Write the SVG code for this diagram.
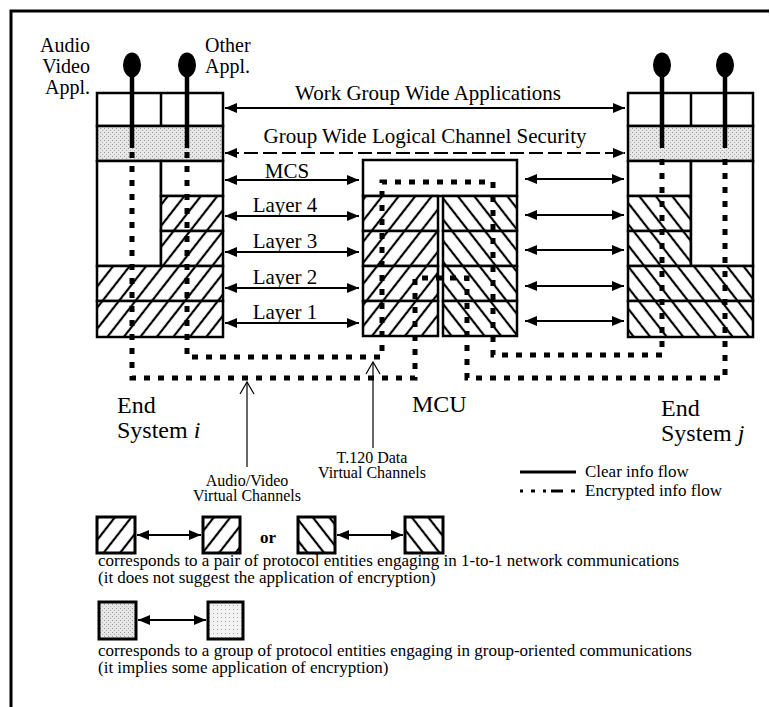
<svg xmlns="http://www.w3.org/2000/svg" width="770" height="707" viewBox="0 0 770 707">
<style>
  .t { font-family: "Liberation Serif", "Times New Roman", serif; fill: #000; }
  .lg { font-size: 21px; }
  .ap { font-size: 20px; }
  .big { font-size: 24px; }
  .sm { font-size: 17px; }
  .vc { font-size: 16px; }
  .box { stroke: #000; stroke-width: 2.5; }
  .wh { fill: #fff; }
  .hf { fill: url(#hatchF); }
  .hb { fill: url(#hatchB); }
  .gr { fill: url(#stip); }
  .arr { stroke: #000; stroke-width: 2; fill: none; marker-start: url(#ah); marker-end: url(#ah); }
  .enc { stroke: #000; stroke-width: 5; fill: none; stroke-dasharray: 6 8; }
  .stick { stroke: #000; stroke-width: 4.5; fill: none; }
  .thin { stroke: #000; stroke-width: 1.2; fill: none; }
  .lbox { stroke: #000; stroke-width: 3; }
</style>
<defs>
  <pattern id="hatchF" patternUnits="userSpaceOnUse" width="13" height="13" patternTransform="rotate(38)">
    <rect width="13" height="13" fill="#fff"/>
    <line x1="6" y1="-1" x2="6" y2="14" stroke="#000" stroke-width="2.2"/>
  </pattern>
  <pattern id="hatchB" patternUnits="userSpaceOnUse" width="13" height="13" patternTransform="rotate(-38)">
    <rect width="13" height="13" fill="#fff"/>
    <line x1="6" y1="-1" x2="6" y2="14" stroke="#000" stroke-width="2.2"/>
  </pattern>
  <pattern id="stip" patternUnits="userSpaceOnUse" width="4" height="4">
    <rect width="4" height="4" fill="#e6e6e6"/>
    <rect x="0" y="0" width="1" height="1" fill="#999"/>
    <rect x="2" y="2" width="1" height="1" fill="#b0b0b0"/>
  </pattern>
  <pattern id="stip2" patternUnits="userSpaceOnUse" width="4" height="4">
    <rect width="4" height="4" fill="#f2f2f2"/>
    <rect x="1" y="1" width="1" height="1" fill="#a5a5a5"/>
  </pattern>
  <marker id="ah" viewBox="0 0 12 10" refX="12" refY="5" markerWidth="12" markerHeight="10" markerUnits="userSpaceOnUse" orient="auto-start-reverse">
    <path d="M0,0 L12,5 L0,10 z" fill="#000"/>
  </marker>
</defs>

<g id="frame">
  <path d="M11,707 V11 H769" stroke="#000" stroke-width="3" fill="none"/>
</g>

<g id="end-system-i">
  <rect class="box wh" x="97" y="93" width="126" height="33"/>
  <line class="box" x1="161" y1="93" x2="161" y2="126"/>
  <rect class="box gr" x="97" y="126" width="126" height="35"/>
  <rect class="box wh" x="97" y="161" width="64" height="105"/>
  <rect class="box wh" x="161" y="161" width="62" height="35"/>
  <rect class="box hf" x="161" y="196" width="62" height="35"/>
  <rect class="box hf" x="161" y="231" width="62" height="35"/>
  <rect class="box hf" x="97" y="266" width="126" height="35"/>
  <rect class="box hf" x="97" y="301" width="126" height="36"/>
  <ellipse cx="132" cy="65" rx="9" ry="12.5"/>
  <ellipse cx="187" cy="65" rx="9" ry="12.5"/>
  <line class="stick" x1="132" y1="70" x2="132" y2="148"/>
  <line class="stick" x1="187" y1="70" x2="187" y2="148"/>
  <text class="t ap" x="90" y="52" text-anchor="end">Audio</text>
  <text class="t ap" x="90" y="73" text-anchor="end">Video</text>
  <text class="t ap" x="90" y="94" text-anchor="end">Appl.</text>
  <text class="t ap" x="205" y="52">Other</text>
  <text class="t ap" x="205" y="73">Appl.</text>
  <text class="t big" x="117" y="413">End</text>
  <text class="t big" x="117" y="438">System <tspan font-style="italic">i</tspan></text>
</g>

<g id="mcu">
  <rect class="box wh" x="363" y="160" width="154" height="36"/>
  <rect class="box hf" x="363" y="196" width="75" height="35"/>
  <rect class="box hf" x="363" y="231" width="75" height="35"/>
  <rect class="box hf" x="363" y="266" width="75" height="35"/>
  <rect class="box hf" x="363" y="301" width="75" height="35"/>
  <rect class="box hb" x="443" y="196" width="74" height="35"/>
  <rect class="box hb" x="443" y="231" width="74" height="35"/>
  <rect class="box hb" x="443" y="266" width="74" height="35"/>
  <rect class="box hb" x="443" y="301" width="74" height="35"/>
  <text class="t big" x="412" y="412">MCU</text>
</g>

<g id="end-system-j">
  <rect class="box wh" x="628" y="93" width="125" height="33"/>
  <line class="box" x1="691" y1="93" x2="691" y2="126"/>
  <rect class="box gr" x="628" y="126" width="125" height="35"/>
  <rect class="box wh" x="628" y="161" width="63" height="35"/>
  <rect class="box hb" x="628" y="196" width="63" height="35"/>
  <rect class="box hb" x="628" y="231" width="63" height="35"/>
  <rect class="box wh" x="691" y="161" width="62" height="105"/>
  <rect class="box hb" x="628" y="266" width="125" height="35"/>
  <rect class="box hb" x="628" y="301" width="125" height="36"/>
  <ellipse cx="662" cy="65" rx="9" ry="12.5"/>
  <ellipse cx="725" cy="65" rx="9" ry="12.5"/>
  <line class="stick" x1="662" y1="70" x2="662" y2="148"/>
  <line class="stick" x1="725" y1="70" x2="725" y2="148"/>
  <text class="t big" x="661" y="416">End</text>
  <text class="t big" x="661" y="441">System <tspan font-style="italic">j</tspan></text>
</g>

<g id="connectors">
  <line class="arr" x1="225" y1="108" x2="625" y2="108"/>
  <line class="arr" x1="225" y1="153" x2="625" y2="153" stroke-dasharray="14 5"/>
  <line class="arr" x1="225" y1="180" x2="359" y2="180"/>
  <line class="arr" x1="225" y1="216" x2="359" y2="216"/>
  <line class="arr" x1="225" y1="252" x2="359" y2="252"/>
  <line class="arr" x1="225" y1="288" x2="359" y2="288"/>
  <line class="arr" x1="225" y1="323" x2="359" y2="323"/>
  <line class="arr" x1="525" y1="179" x2="624" y2="179"/>
  <line class="arr" x1="525" y1="215" x2="624" y2="215"/>
  <line class="arr" x1="525" y1="250" x2="624" y2="250"/>
  <line class="arr" x1="525" y1="286" x2="624" y2="286"/>
  <line class="arr" x1="525" y1="321" x2="624" y2="321"/>
  <path class="enc" d="M187,152 V357 H382 V182 H493 V355 H662 V152"/>
  <path class="enc" d="M132,152 V378 H415 V278 H467 V378 H725 V152"/>
  <line class="thin" x1="247" y1="467" x2="247" y2="382"/>
  <path class="thin" d="M240,394 L247,382 L254,394"/>
  <line class="thin" x1="373" y1="448" x2="373" y2="362"/>
  <path class="thin" d="M366,374 L373,362 L380,374"/>
</g>

<g id="labels">
  <text class="t lg" x="428" y="100" text-anchor="middle">Work Group Wide Applications</text>
  <text class="t lg" x="425" y="143" text-anchor="middle">Group Wide Logical Channel Security</text>
  <text class="t lg" x="287" y="178" text-anchor="middle">MCS</text>
  <text class="t lg" x="285" y="212" text-anchor="middle">Layer 4</text>
  <text class="t lg" x="285" y="248" text-anchor="middle">Layer 3</text>
  <text class="t lg" x="285" y="284" text-anchor="middle">Layer 2</text>
  <text class="t lg" x="285" y="319" text-anchor="middle">Layer 1</text>
  <text class="t vc" x="247" y="486" text-anchor="middle">Audio/Video</text>
  <text class="t vc" x="247" y="501" text-anchor="middle">Virtual Channels</text>
  <text class="t vc" x="372" y="463" text-anchor="middle">T.120 Data</text>
  <text class="t vc" x="372" y="478" text-anchor="middle">Virtual Channels</text>
</g>

<g id="legend">
  <line x1="520" y1="472" x2="576" y2="472" stroke="#000" stroke-width="3"/>
  <text class="t sm" x="585" y="477">Clear info flow</text>
  <line x1="520" y1="491" x2="578" y2="491" stroke="#000" stroke-width="3" stroke-dasharray="3 8 4 8 3 5 9 0"/>
  <text class="t sm" x="585" y="496">Encrypted info flow</text>

  <rect class="lbox hf" x="97" y="517" width="38" height="36"/>
  <rect class="lbox hf" x="203" y="517" width="37" height="36"/>
  <line class="arr" x1="137" y1="535" x2="201" y2="535"/>
  <text class="t sm" x="260" y="543" font-weight="bold">or</text>
  <rect class="lbox hb" x="298" y="517" width="37" height="36"/>
  <rect class="lbox hb" x="405" y="517" width="38" height="36"/>
  <line class="arr" x1="337" y1="535" x2="403" y2="535"/>
  <text class="t sm" x="98" y="566">corresponds to a pair of protocol entities engaging in 1-to-1 network communications</text>
  <text class="t sm" x="98" y="583">(it does not suggest the application of encryption)</text>

  <rect class="lbox" x="99" y="602" width="37" height="37" fill="url(#stip)"/>
  <rect class="lbox" x="208" y="602" width="35" height="37" fill="url(#stip2)"/>
  <line class="arr" x1="138" y1="620" x2="206" y2="620"/>
  <text class="t sm" x="98" y="656">corresponds to a group of protocol entities engaging in group-oriented communications</text>
  <text class="t sm" x="98" y="673">(it implies some application of encryption)</text>
</g>
</svg>
